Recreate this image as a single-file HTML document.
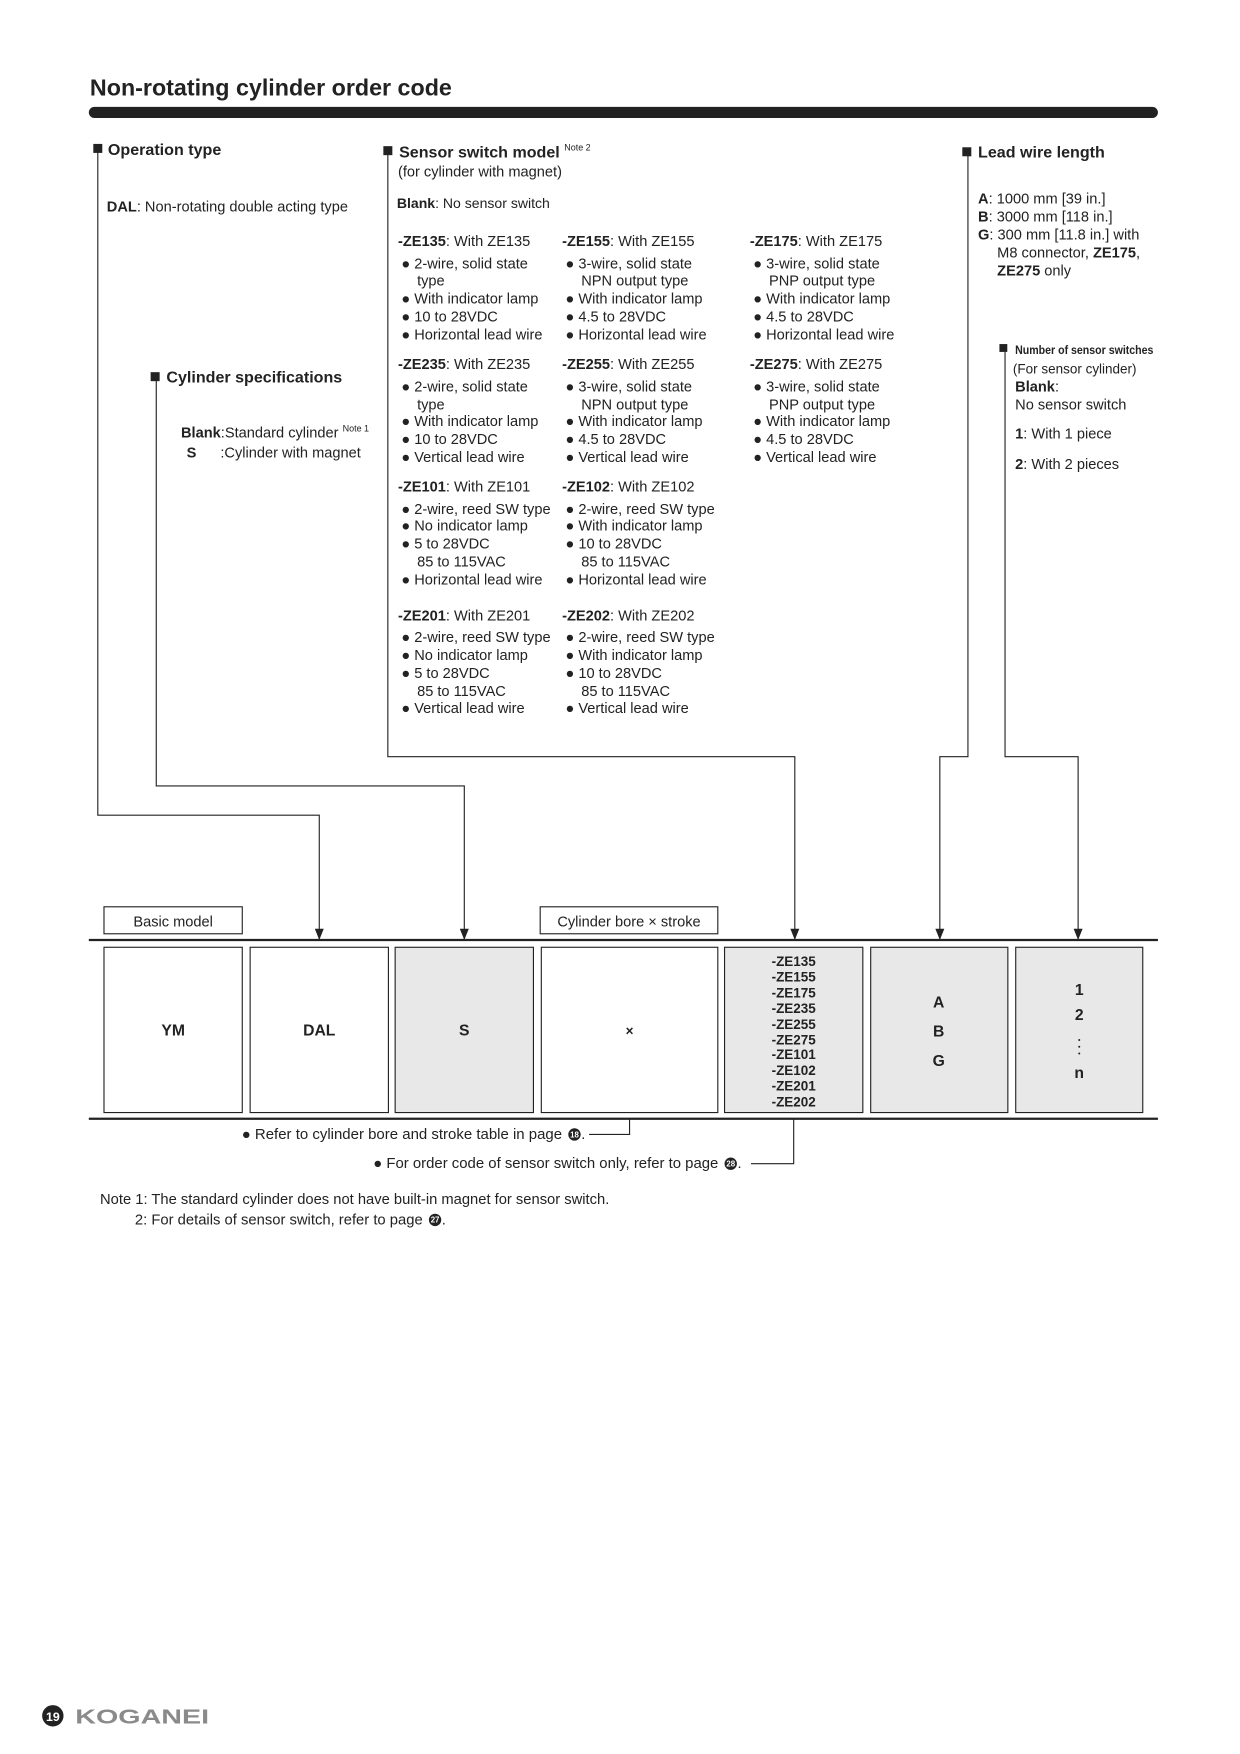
<!DOCTYPE html>
<html><head><meta charset="utf-8"><style>
html,body{margin:0;padding:0;background:#fff}
svg{display:block}
text{font-family:"Liberation Sans",Arial,sans-serif;fill:#222}
.b{font-weight:bold}
.h{font-size:14.3px;font-weight:bold}
.t{font-size:13px}
.s{font-size:12.5px}
.z{font-size:12px;font-weight:bold;text-anchor:middle}
.big{font-size:14px;font-weight:bold;text-anchor:middle}
</style></head><body>
<svg width="1240" height="1754" viewBox="0 0 1103 1560" preserveAspectRatio="none" xmlns="http://www.w3.org/2000/svg">
<defs><marker id="ar" markerWidth="10" markerHeight="8" refX="10" refY="4" orient="auto" markerUnits="userSpaceOnUse"><path d="M0,0 L10,4 L0,8 Z" fill="#222"/></marker></defs>
<text x="80" y="85" style="font-size:20.7px;font-weight:bold">Non-rotating cylinder order code</text>
<rect x="79" y="95" width="951" height="10" rx="5" fill="#222"/>

<g stroke="#222" stroke-width="1" fill="none">
<polyline points="87,135 87,725 284,725 284,836" marker-end="url(#ar)"/>
<polyline points="139,337 139,699 413,699 413,836" marker-end="url(#ar)"/>
<polyline points="345,137 345,673 707,673 707,836" marker-end="url(#ar)"/>
<polyline points="861,137 861,673 836,673 836,836" marker-end="url(#ar)"/>
<polyline points="894,313 894,673 959,673 959,836" marker-end="url(#ar)"/>
<polyline points="560,995 560,1009 524,1009"/>
<polyline points="706,995 706,1035 668,1035"/>
</g>

<rect x="83" y="128" width="8" height="8" fill="#222"/>
<text x="96" y="138" class="h">Operation type</text>
<text x="95" y="188" class="t"><tspan class="b">DAL</tspan>: Non-rotating double acting type</text>

<rect x="134" y="331" width="8" height="8" fill="#222"/>
<text x="148" y="340" class="h">Cylinder specifications</text>
<text x="161" y="389" class="t"><tspan class="b">Blank</tspan>:Standard cylinder <tspan style="font-size:8px" dy="-5">Note 1</tspan></text>
<text x="166" y="407" class="t b">S</text>
<text x="196" y="407" class="t">:Cylinder with magnet</text>

<rect x="341" y="130" width="8" height="8" fill="#222"/>
<text x="355" y="140" class="h">Sensor switch model <tspan style="font-size:8px;font-weight:normal" dy="-6">Note 2</tspan></text>
<text x="354" y="157" class="t">(for cylinder with magnet)</text>
<text x="353" y="185" class="s"><tspan class="b">Blank</tspan>: No sensor switch</text>

<g class="t">
<text x="354" y="219"><tspan class="b">-ZE135</tspan>: With ZE135</text>
<text x="500" y="219"><tspan class="b">-ZE155</tspan>: With ZE155</text>
<text x="667" y="219"><tspan class="b">-ZE175</tspan>: With ZE175</text>
<text x="357" y="239">●  2-wire, solid state</text><text x="371" y="254">type</text>
<text x="357" y="270">●  With indicator lamp</text><text x="357" y="286">●  10 to 28VDC</text><text x="357" y="302">●  Horizontal lead wire</text>
<text x="503" y="239">●  3-wire, solid state</text><text x="517" y="254">NPN output type</text>
<text x="503" y="270">●  With indicator lamp</text><text x="503" y="286">●  4.5 to 28VDC</text><text x="503" y="302">●  Horizontal lead wire</text>
<text x="670" y="239">●  3-wire, solid state</text><text x="684" y="254">PNP output type</text>
<text x="670" y="270">●  With indicator lamp</text><text x="670" y="286">●  4.5 to 28VDC</text><text x="670" y="302">●  Horizontal lead wire</text>
<text x="354" y="328"><tspan class="b">-ZE235</tspan>: With ZE235</text>
<text x="500" y="328"><tspan class="b">-ZE255</tspan>: With ZE255</text>
<text x="667" y="328"><tspan class="b">-ZE275</tspan>: With ZE275</text>
<text x="357" y="348">●  2-wire, solid state</text><text x="371" y="364">type</text>
<text x="357" y="379">●  With indicator lamp</text><text x="357" y="395">●  10 to 28VDC</text><text x="357" y="411">●  Vertical lead wire</text>
<text x="503" y="348">●  3-wire, solid state</text><text x="517" y="364">NPN output type</text>
<text x="503" y="379">●  With indicator lamp</text><text x="503" y="395">●  4.5 to 28VDC</text><text x="503" y="411">●  Vertical lead wire</text>
<text x="670" y="348">●  3-wire, solid state</text><text x="684" y="364">PNP output type</text>
<text x="670" y="379">●  With indicator lamp</text><text x="670" y="395">●  4.5 to 28VDC</text><text x="670" y="411">●  Vertical lead wire</text>
<text x="354" y="437"><tspan class="b">-ZE101</tspan>: With ZE101</text>
<text x="500" y="437"><tspan class="b">-ZE102</tspan>: With ZE102</text>
<text x="357" y="457">●  2-wire, reed SW type</text><text x="357" y="472">●  No indicator lamp</text>
<text x="357" y="488">●  5 to 28VDC</text><text x="371" y="504">85 to 115VAC</text><text x="357" y="520">●  Horizontal lead wire</text>
<text x="503" y="457">●  2-wire, reed SW type</text><text x="503" y="472">●  With indicator lamp</text>
<text x="503" y="488">●  10 to 28VDC</text><text x="517" y="504">85 to 115VAC</text><text x="503" y="520">●  Horizontal lead wire</text>
<text x="354" y="552"><tspan class="b">-ZE201</tspan>: With ZE201</text>
<text x="500" y="552"><tspan class="b">-ZE202</tspan>: With ZE202</text>
<text x="357" y="571">●  2-wire, reed SW type</text><text x="357" y="587">●  No indicator lamp</text>
<text x="357" y="603">●  5 to 28VDC</text><text x="371" y="619">85 to 115VAC</text><text x="357" y="634">●  Vertical lead wire</text>
<text x="503" y="571">●  2-wire, reed SW type</text><text x="503" y="587">●  With indicator lamp</text>
<text x="503" y="603">●  10 to 28VDC</text><text x="517" y="619">85 to 115VAC</text><text x="503" y="634">●  Vertical lead wire</text>

<text x="870" y="181"><tspan class="b">A</tspan>: 1000 mm [39 in.]</text>
<text x="870" y="197"><tspan class="b">B</tspan>: 3000 mm [118 in.]</text>
<text x="870" y="213"><tspan class="b">G</tspan>: 300 mm [11.8 in.] with</text>
<text x="887" y="229">M8 connector, <tspan class="b">ZE175</tspan>,</text>
<text x="887" y="245"><tspan class="b">ZE275</tspan> only</text>

<text x="901" y="332" style="font-size:12px">(For sensor cylinder)</text>
<text x="903" y="348" class="b">Blank<tspan style="font-weight:normal">:</tspan></text>
<text x="903" y="364">No sensor switch</text>
<text x="903" y="390"><tspan class="b">1</tspan>: With 1 piece</text>
<text x="903" y="417"><tspan class="b">2</tspan>: With 2 pieces</text>
</g>
<rect x="856" y="131" width="8" height="8" fill="#222"/>
<text x="870" y="140" class="h">Lead wire length</text>
<rect x="889" y="306" width="7" height="7" fill="#222"/>
<text x="903" y="315" style="font-size:11px;font-weight:bold" textLength="123" lengthAdjust="spacingAndGlyphs">Number of sensor switches</text>

<rect x="92.5" y="806.5" width="123" height="24" fill="#fff" stroke="#222"/>
<text x="154" y="824" class="t" text-anchor="middle">Basic model</text>
<rect x="480.5" y="806.5" width="158" height="24" fill="#fff" stroke="#222"/>
<text x="559.5" y="824" class="t" text-anchor="middle">Cylinder bore × stroke</text>

<line x1="79" y1="836" x2="1030" y2="836" stroke="#222" stroke-width="2"/>
<line x1="79" y1="995" x2="1030" y2="995" stroke="#222" stroke-width="2"/>

<g stroke="#222" stroke-width="1">
<rect x="92.5" y="842.5" width="123" height="147" fill="#fff"/>
<rect x="222.5" y="842.5" width="123" height="147" fill="#fff"/>
<rect x="351.5" y="842.5" width="123" height="147" fill="#e8e8e8"/>
<rect x="481.5" y="842.5" width="157" height="147" fill="#fff"/>
<rect x="644.5" y="842.5" width="123" height="147" fill="#e8e8e8"/>
<rect x="774.5" y="842.5" width="122" height="147" fill="#e8e8e8"/>
<rect x="903.5" y="842.5" width="113" height="147" fill="#e8e8e8"/>
</g>
<text x="154" y="921" class="big">YM</text>
<text x="284" y="921" class="big">DAL</text>
<text x="413" y="921" class="big">S</text>
<text x="560" y="921" class="big" style="font-size:12px">×</text>
<text class="z" x="706" y="859">-ZE135</text>
<text class="z" x="706" y="873">-ZE155</text>
<text class="z" x="706" y="887">-ZE175</text>
<text class="z" x="706" y="901">-ZE235</text>
<text class="z" x="706" y="915">-ZE255</text>
<text class="z" x="706" y="929">-ZE275</text>
<text class="z" x="706" y="942">-ZE101</text>
<text class="z" x="706" y="956">-ZE102</text>
<text class="z" x="706" y="970">-ZE201</text>
<text class="z" x="706" y="984">-ZE202</text>
<text x="835" y="896" class="big">A</text>
<text x="835" y="922" class="big">B</text>
<text x="835" y="948" class="big">G</text>
<text x="960" y="885" class="big">1</text>
<text x="960" y="907" class="big">2</text>
<circle cx="960" cy="925" r="0.9" fill="#222"/><circle cx="960" cy="931" r="0.9" fill="#222"/><circle cx="960" cy="937" r="0.9" fill="#222"/>
<text x="960" y="959" class="big">n</text>

<text x="215" y="1013" class="t" textLength="285" lengthAdjust="spacingAndGlyphs">●  Refer to cylinder bore and stroke table in page</text>
<circle cx="511" cy="1009" r="5.5" fill="#222"/><text x="511" y="1011.5" style="font-size:7px;fill:#fff;font-weight:bold" text-anchor="middle">18</text>
<text x="517" y="1013" class="t">.</text>
<text x="332" y="1039" class="t" textLength="307" lengthAdjust="spacingAndGlyphs">●  For order code of sensor switch only, refer to page</text>
<circle cx="650" cy="1035" r="5.5" fill="#222"/><text x="650" y="1037.5" style="font-size:7px;fill:#fff;font-weight:bold" text-anchor="middle">28</text>
<text x="656" y="1039" class="t">.</text>

<text x="89" y="1071" class="t" textLength="453" lengthAdjust="spacingAndGlyphs">Note 1: The standard cylinder does not have built-in magnet for sensor switch.</text>
<text x="120" y="1089" class="t" textLength="256" lengthAdjust="spacingAndGlyphs">2: For details of sensor switch, refer to page</text>
<circle cx="387" cy="1085" r="5.5" fill="#222"/><text x="387" y="1087.5" style="font-size:7px;fill:#fff;font-weight:bold" text-anchor="middle">27</text>
<text x="393" y="1089" class="t">.</text>

<circle cx="47" cy="1526" r="9.5" fill="#222"/>
<text x="47" y="1530.5" style="font-size:11px;fill:#fff;font-weight:bold" text-anchor="middle">19</text>
<text x="67" y="1533" style="font-size:18px;font-weight:bold;fill:#8a8a8a" textLength="119" lengthAdjust="spacingAndGlyphs">KOGANEI</text>
</svg>
</body></html>
